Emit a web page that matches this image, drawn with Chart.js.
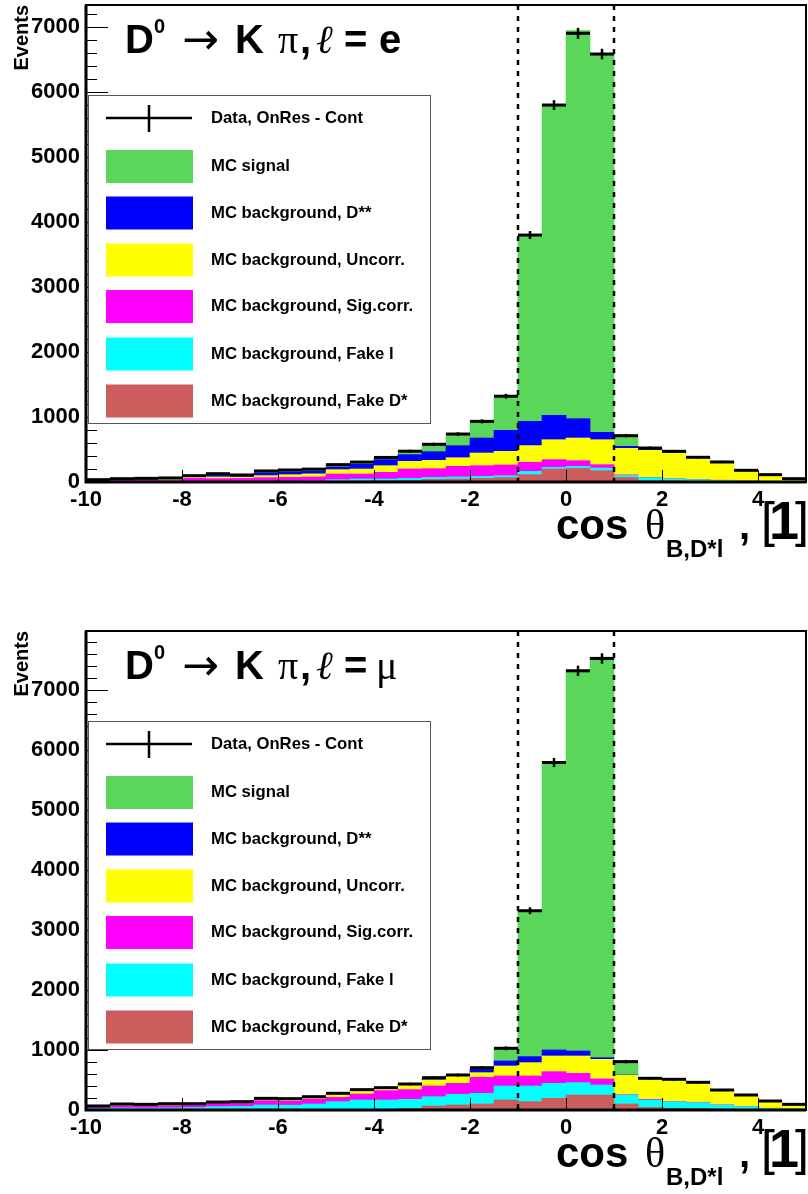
<!DOCTYPE html>
<html>
<head>
<meta charset="utf-8">
<script src="https://cdn.jsdelivr.net/npm/chart.js@4.4.0/dist/chart.umd.min.js"></script>
<style>
body { margin: 0; background: #fff; }
.panel { position: relative; width: 808px; height: 597px; }
</style>
</head>
<body>
<div class="panel"><canvas id="chartE" width="808" height="597"></canvas></div>
<div class="panel"><canvas id="chartMu" width="808" height="597"></canvas></div>
<script>
// Bin centres of cos(theta_B,D*l), bin width 0.5
const binCenters = [-9.75, -9.25, -8.75, -8.25, -7.75, -7.25, -6.75, -6.25, -5.75, -5.25,
    -4.75, -4.25, -3.75, -3.25, -2.75, -2.25, -1.75, -1.25, -0.75, -0.25,
    0.25, 0.75, 1.25, 1.75, 2.25, 2.75, 3.25, 3.75, 4.25, 4.75];
const xTickLabels = [-10, -8, -6, -4, -2, 0, 2, 4];
const yTickLabels = [0, 1000, 2000, 3000, 4000, 5000, 6000, 7000];
const cutLines = [-1, 1];

// l = e
const eFakeD   = [2, 2, 2, 2, 2, 3, 3, 4, 5, 5, 15, 18, 20, 25, 40, 46, 56, 67, 113, 200, 210, 174, 70, 20, 20, 10, 6, 4, 3, 2];
const eFakeL   = [2, 3, 4, 4, 4, 5, 5, 6, 7, 9, 21, 28, 26, 30, 30, 31, 31, 30, 51, 26, 31, 41, 30, 47, 26, 26, 20, 11, 7, 4];
const eSigCorr = [18, 27, 30, 16, 50, 44, 47, 57, 60, 64, 87, 77, 103, 145, 135, 164, 164, 165, 139, 118, 87, 52, 10, 5, 4, 3, 2, 2, 2, 2];
const eUncorr  = [4, 6, 8, 16, 21, 26, 20, 31, 40, 47, 67, 77, 102, 118, 128, 133, 195, 210, 257, 307, 349, 384, 408, 415, 396, 325, 264, 152, 91, 28];
const eDss     = [4, 6, 6, 12, 11, 27, 17, 42, 43, 43, 41, 72, 93, 103, 134, 185, 231, 323, 374, 375, 297, 113, 31, 21, 16, 10, 8, 5, 3, 4];
const eSignal  = [4, 4, 5, 10, 8, 17, 14, 25, 27, 27, 31, 31, 31, 51, 111, 177, 253, 520, 2856, 4789, 5971, 5836, 164, 12, 8, 4, 5, 4, 4, 6];
const eData    = [36, 51, 56, 62, 97, 128, 108, 170, 185, 198, 267, 307, 378, 474, 580, 738, 933, 1320, 3800, 5800, 6905, 6585, 713, 523, 472, 380, 308, 180, 113, 51];

// l = mu
const muFakeD   = [2, 3, 3, 3, 3, 4, 4, 5, 5, 6, 8, 10, 12, 25, 67, 83, 100, 167, 139, 194, 250, 250, 100, 44, 30, 25, 15, 10, 6, 4];
const muFakeL   = [23, 32, 30, 33, 38, 52, 56, 78, 75, 94, 131, 157, 155, 153, 155, 178, 178, 233, 261, 250, 206, 167, 150, 123, 109, 97, 68, 46, 22, 13];
const muSigCorr = [20, 35, 33, 36, 45, 55, 55, 73, 70, 83, 72, 100, 155, 162, 178, 183, 266, 167, 167, 195, 155, 100, 6, 11, 5, 4, 3, 2, 2, 1];
const muUncorr  = [10, 15, 14, 18, 12, 11, 13, 27, 28, 28, 56, 66, 40, 70, 100, 123, 78, 166, 222, 261, 289, 327, 322, 333, 350, 318, 236, 175, 109, 65];
const muDss     = [5, 7, 7, 7, 4, 5, 5, 5, 5, 4, 5, 3, 4, 10, 17, 11, 56, 84, 100, 100, 83, 28, 5, 3, 4, 4, 3, 3, 2, 2];
const muSignal  = [4, 5, 5, 5, 2, 4, 4, 4, 4, 5, 4, 2, 4, 10, 18, 3, 24, 203, 2421, 4767, 6350, 6672, 217, 8, 8, 7, 3, 7, 4, 5];
const muData    = [67, 100, 94, 105, 105, 133, 139, 194, 189, 222, 278, 339, 372, 433, 539, 583, 705, 1028, 3320, 5789, 7317, 7522, 806, 528, 511, 461, 333, 250, 150, 94];

const legendLabels = ['Data, OnRes - Cont', 'MC signal', 'MC background, D**', 'MC background, Uncorr.',
    'MC background, Sig.corr.', 'MC background, Fake l', 'MC background, Fake D*'];
const colors = {
    signal: '#5ad65a',
    dss: '#0000ff',
    uncorr: '#ffff00',
    sigCorr: '#ff00ff',
    fakeL: '#00ffff',
    fakeD: '#cd5c5c'
};

const FONT = '"Liberation Sans", Arial, Helvetica, sans-serif';
const SERIF = '"Liberation Serif", "DejaVu Serif", serif';

function points(values) {
    return values.map((v, i) => ({ x: binCenters[i], y: v }));
}

function barSet(label, values, color) {
    return {
        type: 'bar', label: label, data: points(values), backgroundColor: color,
        borderWidth: 0, stack: 'mc', order: 2, categoryPercentage: 1, barPercentage: 1
    };
}

// ROOT-like decorations: frame, ticks, cut lines, error bars, legend, labels
const rootDecor = {
    id: 'rootDecor',
    afterDatasetsDraw(chart) {
        const { ctx, chartArea: a, scales: { x, y } } = chart;
        ctx.save();
        // statistical error bars on the data points
        const last = chart.data.datasets.length - 1;
        const meta = chart.getDatasetMeta(last);
        const vals = chart.data.datasets[last].data;
        ctx.strokeStyle = '#000';
        ctx.lineWidth = 2.5;
        meta.data.forEach((pt, i) => {
            const v = vals[i].y;
            const err = Math.sqrt(v);
            ctx.beginPath();
            ctx.moveTo(pt.x, y.getPixelForValue(v + err));
            ctx.lineTo(pt.x, y.getPixelForValue(v - err));
            ctx.stroke();
        });
        // dashed signal-region lines
        ctx.setLineDash([5, 6]);
        cutLines.forEach(v => {
            const px = Math.round(x.getPixelForValue(v));
            ctx.beginPath();
            ctx.moveTo(px, a.top);
            ctx.lineTo(px, a.bottom);
            ctx.stroke();
        });
        ctx.setLineDash([]);
        ctx.restore();
    },
    afterDraw(chart, args, opts) {
        const { ctx, chartArea: a, scales: { x, y } } = chart;
        ctx.save();
        ctx.fillStyle = '#000';
        ctx.strokeStyle = '#000';

        // frame
        ctx.lineWidth = 2;
        ctx.strokeRect(a.left, a.top, a.right - a.left, a.bottom - a.top);
        ctx.lineWidth = 3;
        ctx.beginPath();
        ctx.moveTo(a.left, a.top);
        ctx.lineTo(a.left, a.bottom);
        ctx.lineTo(a.right, a.bottom);
        ctx.stroke();

        // y ticks (major every 1000, minor every 200)
        ctx.lineWidth = 1;
        for (let v = 0; v <= y.max; v += 200) {
            const py = Math.round(y.getPixelForValue(v)) + 0.5;
            const len = v % 1000 === 0 ? 22 : 11;
            ctx.beginPath();
            ctx.moveTo(a.left, py);
            ctx.lineTo(a.left + len, py);
            ctx.stroke();
        }
        // x ticks
        xTickLabels.forEach(v => {
            const px = Math.round(x.getPixelForValue(v)) + 0.5;
            ctx.beginPath();
            ctx.moveTo(px, a.bottom);
            ctx.lineTo(px, a.bottom - 12);
            ctx.stroke();
        });

        // "Events" y label
        ctx.save();
        ctx.translate(22, a.top);
        ctx.rotate(-Math.PI / 2);
        ctx.font = 'bold 20px ' + FONT;
        ctx.textAlign = 'right';
        ctx.textBaseline = 'middle';
        ctx.fillText('Events', 0, 0);
        ctx.restore();

        // channel title
        const tb = a.top + 48;
        ctx.textBaseline = 'alphabetic';
        ctx.textAlign = 'left';
        ctx.font = 'bold 40px ' + FONT;
        ctx.fillText('D', 125, tb);
        ctx.font = 'bold 20px ' + FONT;
        ctx.fillText('0', 154, a.top + 28);
        ctx.font = '44px "DejaVu Sans", sans-serif';
        ctx.fillText('\u2192', 182, tb + 1);
        ctx.font = 'bold 40px ' + FONT;
        ctx.fillText('K', 235, tb);
        ctx.font = '40px ' + SERIF;
        ctx.fillText('\u03c0', 278, tb);
        ctx.font = 'bold 40px ' + FONT;
        ctx.fillText(',', 300, tb);
        ctx.font = 'italic 40px ' + SERIF;
        ctx.fillText('\u2113', 316, tb);
        ctx.font = 'bold 40px ' + FONT;
        ctx.fillText('=', 344, tb);
        if (opts.lepton === 'e') {
            ctx.font = 'bold 40px ' + FONT;
            ctx.fillText('e', 379, tb);
        } else {
            ctx.font = '40px ' + SERIF;
            ctx.fillText('\u03bc', 376, tb);
        }

        // x axis title
        const xb = a.bottom + 57;
        ctx.font = 'bold 42px ' + FONT;
        ctx.fillText('cos', 556, xb);
        ctx.font = '42px ' + SERIF;
        ctx.fillText('\u03b8', 645, xb);
        ctx.font = 'bold 24px ' + FONT;
        ctx.fillText('B,D*l', 666, xb + 18);
        ctx.font = 'bold 40px ' + FONT;
        ctx.fillText(',', 739, xb);
        ctx.font = '50px ' + FONT;
        ctx.fillText('[', 761, xb - 2);
        ctx.font = 'bold 54px ' + FONT;
        ctx.fillText('1', 769, xb);
        ctx.font = '50px ' + FONT;
        ctx.fillText(']', 795, xb - 2);

        // legend
        const lx = a.left + 2, ly = a.top + 90, lw = 342, lh = 328;
        ctx.fillStyle = '#fff';
        ctx.fillRect(lx, ly, lw, lh);
        ctx.strokeStyle = '#555';
        ctx.lineWidth = 1;
        ctx.strokeRect(lx + 0.5, ly + 0.5, lw, lh);
        const rows = [23, 71.5, 118, 165, 211.5, 259, 306];
        const fills = [null, colors.signal, colors.dss, colors.uncorr, colors.sigCorr, colors.fakeL, colors.fakeD];
        ctx.font = 'bold 16.7px ' + FONT;
        ctx.textBaseline = 'middle';
        rows.forEach((off, i) => {
            const cy = ly + off;
            if (fills[i]) {
                ctx.fillStyle = fills[i];
                ctx.fillRect(106, cy - 16.5, 87, 33);
            } else {
                ctx.strokeStyle = '#000';
                ctx.lineWidth = 2.5;
                ctx.beginPath();
                ctx.moveTo(106, cy);
                ctx.lineTo(192, cy);
                ctx.moveTo(149, cy - 13);
                ctx.lineTo(149, cy + 14);
                ctx.stroke();
            }
            ctx.fillStyle = '#000';
            ctx.fillText(legendLabels[i], 211, cy);
        });
        ctx.restore();
    }
};

function makeChart(canvasId, lepton, series, yMax, padTop, bottomSpace) {
    const ctx = document.getElementById(canvasId);
    return new Chart(ctx, {
        data: {
            datasets: [
                barSet('MC background, Fake D*', series.fakeD, colors.fakeD),
                barSet('MC background, Fake l', series.fakeL, colors.fakeL),
                barSet('MC background, Sig.corr.', series.sigCorr, colors.sigCorr),
                barSet('MC background, Uncorr.', series.uncorr, colors.uncorr),
                barSet('MC background, D**', series.dss, colors.dss),
                barSet('MC signal', series.signal, colors.signal),
                {
                    type: 'line', label: 'Data, OnRes - Cont', data: points(series.data),
                    showLine: false, stack: 'data', order: 1,
                    pointStyle: 'line', pointRadius: 12, pointHoverRadius: 12,
                    pointBorderWidth: 3, borderWidth: 3,
                    borderColor: '#000', pointBorderColor: '#000', backgroundColor: '#000'
                }
            ]
        },
        options: {
            responsive: false,
            animation: false,
            events: [],
            layout: { autoPadding: false, padding: { top: padTop, right: 2, left: 0, bottom: 0 } },
            plugins: {
                legend: { display: false },
                tooltip: { enabled: false },
                rootDecor: { lepton: lepton }
            },
            scales: {
                x: {
                    type: 'linear', min: -10, max: 5, offset: false,
                    afterBuildTicks: s => { s.ticks = xTickLabels.map(v => ({ value: v })); },
                    afterFit: s => {
                        s.height = bottomSpace;
                        s.paddingLeft = 0; s.paddingRight = 0;
                        s.paddingTop = 0; s.paddingBottom = 0;
                    },
                    grid: { display: false, drawTicks: false, offset: false },
                    border: { display: false },
                    ticks: {
                        padding: 5, maxRotation: 0, autoSkip: false,
                        callback: v => String(v),
                        color: '#000', font: { family: FONT, size: 22, weight: 'bold' }
                    }
                },
                y: {
                    stacked: true, min: 0, max: yMax,
                    afterBuildTicks: s => { s.ticks = yTickLabels.map(v => ({ value: v })); },
                    afterFit: s => {
                        s.width = 86;
                        s.paddingLeft = 0; s.paddingRight = 0;
                        s.paddingTop = 0; s.paddingBottom = 0;
                    },
                    grid: { display: false, drawTicks: false },
                    border: { display: false },
                    ticks: {
                        padding: 6, autoSkip: false,
                        callback: v => String(v),
                        color: '#000', font: { family: FONT, size: 22, weight: 'bold' }
                    }
                }
            }
        },
        plugins: [rootDecor]
    });
}

makeChart('chartE', 'e', {
    fakeD: eFakeD, fakeL: eFakeL, sigCorr: eSigCorr, uncorr: eUncorr,
    dss: eDss, signal: eSignal, data: eData
}, 7340, 5, 115);

makeChart('chartMu', 'mu', {
    fakeD: muFakeD, fakeL: muFakeL, sigCorr: muSigCorr, uncorr: muUncorr,
    dss: muDss, signal: muSignal, data: muData
}, 7980, 34, 84);
</script>
</body>
</html>
